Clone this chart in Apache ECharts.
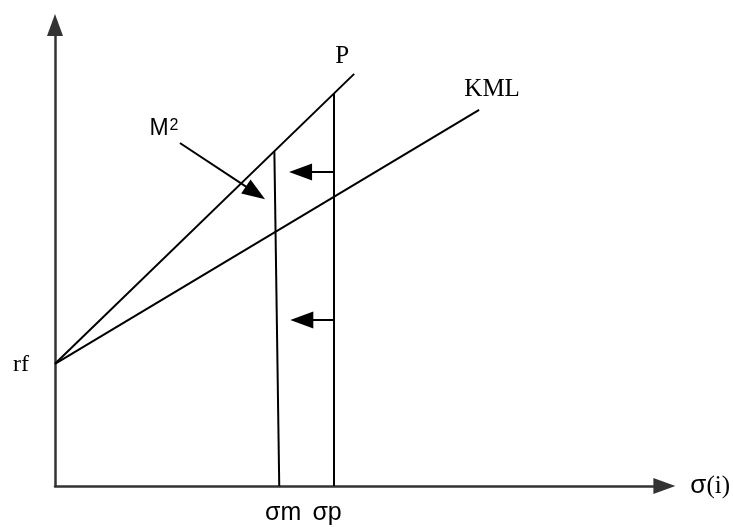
<!DOCTYPE html>
<html>
<head>
<meta charset="utf-8">
<script src="https://cdn.jsdelivr.net/npm/echarts@6/dist/echarts.min.js"></script>
<style>
  html, body { margin: 0; background: #fff; }
  #chart-container { width: 733px; height: 527px; }
</style>
</head>
<body>
<div id="chart-container"></div>
<script>
// 图中读取的数值（x: 风险 σ，y: 收益）
var rf = 2.65;
var pLine = [[0, rf], [4.91, 8.94]];
var kmlLine = [[0, rf], [6.96, 8.16]];
var sigmaPLine = [[4.58, 0], [4.58, 8.52]];
var sigmaMLine = [[3.68, 0], [3.60, 7.26]];
var shiftArrows = [
    [[4.58, 6.81], [4.03, 6.81]],
    [[4.58, 3.60], [4.05, 3.60]]
];
var m2Arrow = [[2.05, 7.44], [3.29, 6.36]];

// 文本标签
var labelNames = ['P', 'KML', 'rf', 'σm', 'σp', 'M²'];
var labelAnchors = [[4.91, 8.94], [6.96, 8.16], [0, rf], [3.68, 0], [4.58, 0], [2.05, 7.44]];

var myChart = echarts.init(document.getElementById('chart-container'));

var serif = '"Liberation Serif", "DejaVu Serif", serif';
var sans = '"Liberation Sans", Arial, sans-serif';

// 标签偏移和字体（样式，不属于数据）
var labelStyle = {
    'P':   { offset: [-12, -17], font: serif, size: 25 },
    'KML': { offset: [13, -20], font: serif, size: 25 },
    'rf':  { offset: [-34, 1], font: serif, size: 24 },
    'σm':  { offset: [4, 27], font: sans, size: 25 },
    'σp':  { offset: [-7, 27], font: sans, size: 25 },
    'M²':  { offset: [-16, -14], font: sans, size: 23 }
};

var labelData = labelNames.map(function (name, i) {
    var s = labelStyle[name];
    var text = name === 'M²' ? '{m|M}{sup|2}' : name;
    return {
        name: name,
        value: labelAnchors[i],
        label: {
            show: true,
            position: 'inside',
            formatter: text,
            offset: s.offset,
            fontFamily: s.font,
            fontSize: s.size,
            color: '#000',
            align: 'center',
            verticalAlign: 'middle',
            rich: {
                m: { fontFamily: sans, fontSize: 23, color: '#000' },
                sup: { fontFamily: sans, fontSize: 16, color: '#000', verticalAlign: 'top', padding: [0, 0, 0, 1] }
            }
        }
    };
});

function segs(list) {
    return list.map(function (c) { return { coords: c }; });
}

var axisLineStyle = { color: '#333', width: 2.5 };

myChart.setOption({
    animation: false,
    grid: { left: 55, top: 25, right: 67, bottom: 41 },
    xAxis: {
        type: 'value',
        min: 0,
        max: 10,
        name: '{s|σ}{p|(i)}',
        nameLocation: 'end',
        nameGap: 26,
        nameTextStyle: {
            rich: {
                s: { fontFamily: sans, fontSize: 26, color: '#000' },
                p: { fontFamily: serif, fontSize: 25, color: '#000' }
            }
        },
        axisLine: { show: true, symbol: ['none', 'triangle'], symbolSize: [16, 22], lineStyle: axisLineStyle },
        axisTick: { show: false },
        axisLabel: { show: false },
        splitLine: { show: false }
    },
    yAxis: {
        type: 'value',
        min: 0,
        max: 10,
        axisLine: { show: true, symbol: ['none', 'triangle'], symbolSize: [16, 22], lineStyle: axisLineStyle },
        axisTick: { show: false },
        axisLabel: { show: false },
        splitLine: { show: false }
    },
    series: [
        {
            // 直线：P、KML、σm、σp
            type: 'lines',
            coordinateSystem: 'cartesian2d',
            silent: true,
            lineStyle: { color: '#000', width: 2, opacity: 1, curveness: 0 },
            data: segs([pLine, kmlLine, sigmaPLine, sigmaMLine])
        },
        {
            // 箭头
            type: 'lines',
            coordinateSystem: 'cartesian2d',
            silent: true,
            symbol: ['none', 'triangle'],
            symbolSize: [0, [17, 23]],
            lineStyle: { color: '#000', width: 2, opacity: 1, curveness: 0 },
            data: segs(shiftArrows.concat([m2Arrow]))
        },
        {
            type: 'scatter',
            symbolSize: 0,
            silent: true,
            itemStyle: { opacity: 1 },
            data: labelData
        }
    ]
});
</script>
</body>
</html>
